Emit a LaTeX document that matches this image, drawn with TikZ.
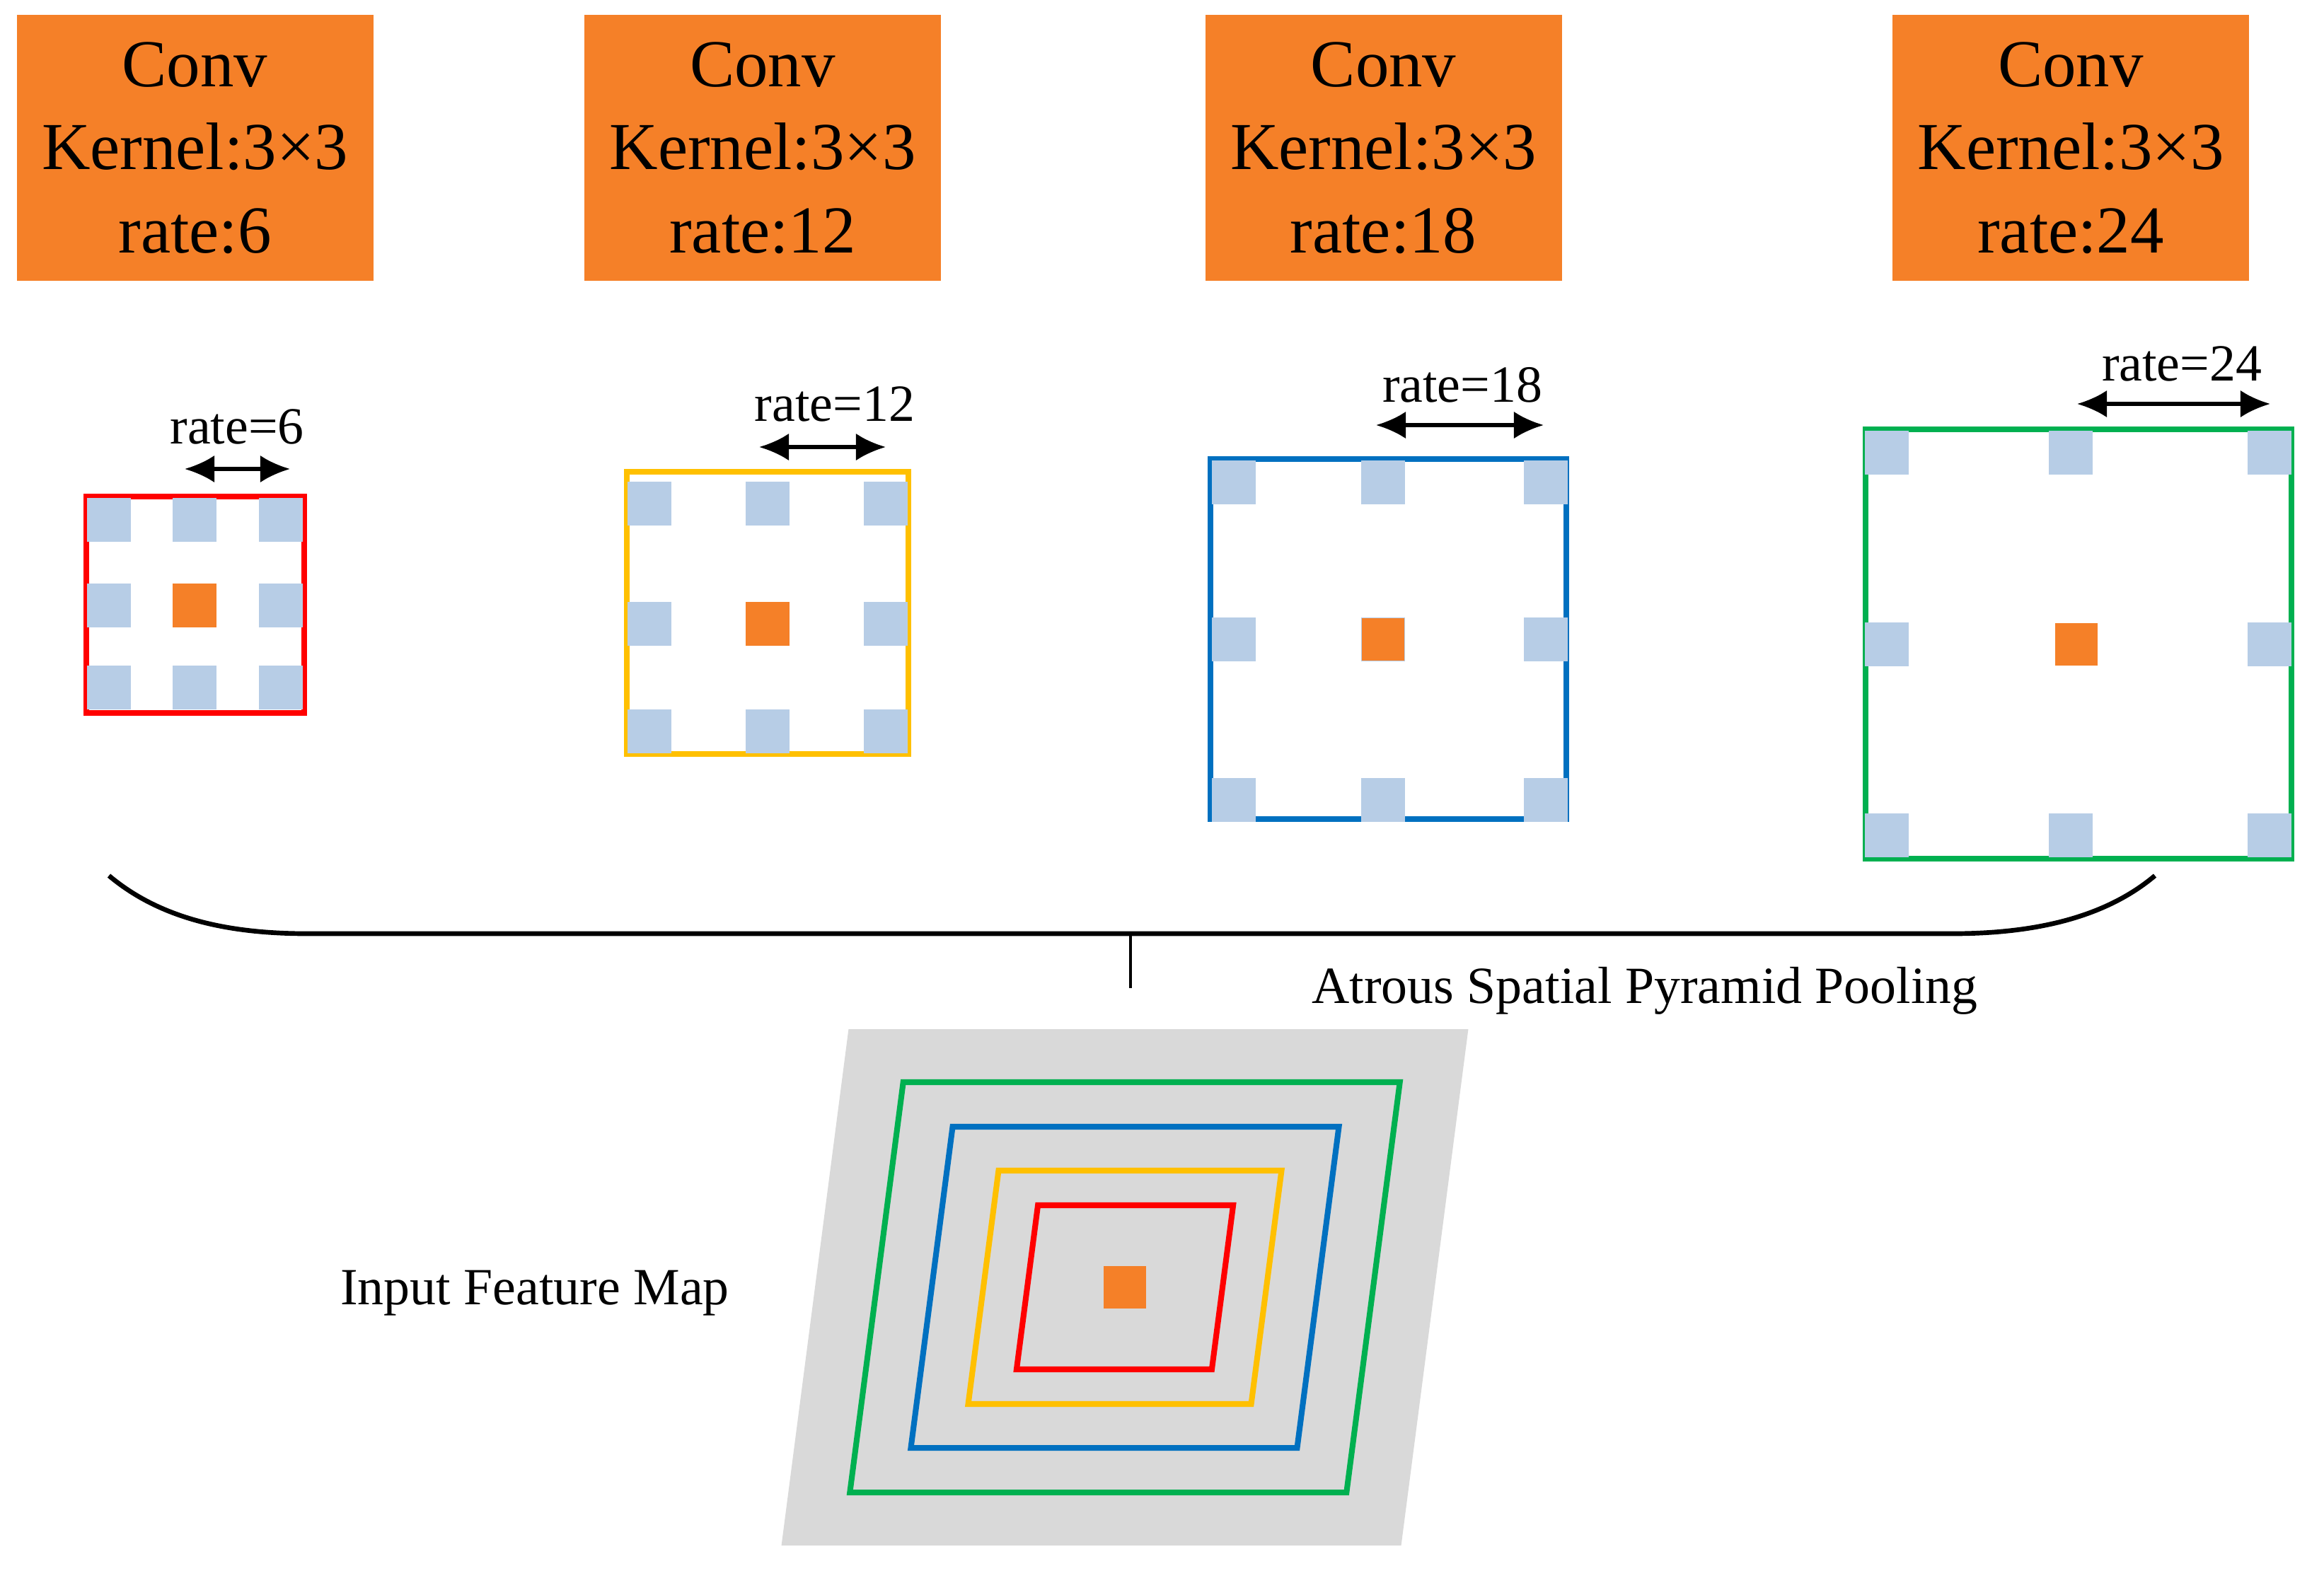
\documentclass[tikz,border=0pt]{standalone}
\usepackage{fontspec}
\setmainfont{Liberation Serif}
\usetikzlibrary{arrows.meta}

\definecolor{convorange}{RGB}{245,128,40}
\definecolor{tapblue}{RGB}{183,205,230}
\definecolor{ratered}{RGB}{255,0,0}
\definecolor{rateyellow}{RGB}{255,192,0}
\definecolor{rateblue}{RGB}{0,112,192}
\definecolor{rategreen}{RGB}{0,176,80}
\definecolor{mapgray}{RGB}{217,217,217}

\tikzset{
  convbox/.style={fill=convorange, minimum width=5.04cm, minimum height=3.76cm,
    align=center, inner sep=0pt, font=\fontsize{27}{33.5}\selectfont},
  ratelabel/.style={inner sep=0pt, font=\fontsize{21}{25}\selectfont},
  kernelframe/.style={line width=2.3pt},
  ratearrow/.style={<->, line width=1.5pt},
}

\begin{document}
\begin{tikzpicture}[x=1cm, y=-1cm, >={Latex[length=12pt,width=11pt]}]
  \useasboundingbox (0,0) rectangle (32.85,22.30);
  % Define sizes
  \def\a{0.31}   % half side of a tap square
  \def\o{0.30}   % half side of the centre square

  % --- Conv boxes ---
  \node[convbox] (conv6)  at (2.755,2.09) {Conv\\Kernel:3×3\\rate:6};
  \node[convbox] (conv12) at (10.78,2.09) {Conv\\Kernel:3×3\\rate:12};
  \node[convbox] (conv18) at (19.555,2.09) {Conv\\Kernel:3×3\\rate:18};
  \node[convbox] (conv24) at (29.27,2.09) {Conv\\Kernel:3×3\\rate:24};

  % --- Kernel, rate 6 ---
  \draw[kernelframe, ratered] (1.22,7.02) rectangle (4.30,10.08);
  \foreach \x in {1.54,2.75,3.97}
    \foreach \y in {7.35,8.56,9.72}
      \fill[tapblue] (\x-\a,\y-\a) rectangle (\x+\a,\y+\a);
  \fill[convorange] (2.75-\a,8.56-\a) rectangle (2.75+\a,8.56+\a);
  \coordinate (r6a) at (2.61,6.63);
  \coordinate (r6b) at (4.10,6.63);
  \draw[ratearrow] (r6a) -- (r6b);
  \node[ratelabel] (lbl6) at (3.35,6.03) {rate=6};

  % --- Kernel, rate 12 ---
  \draw[kernelframe, rateyellow] (8.86,6.67) rectangle (12.84,10.66);
  \foreach \x in {9.18,10.85,12.52}
    \foreach \y in {7.12,8.82,10.34}
      \fill[tapblue] (\x-\a,\y-\a) rectangle (\x+\a,\y+\a);
  \fill[convorange] (10.85-\a,8.82-\a) rectangle (10.85+\a,8.82+\a);
  \coordinate (r12a) at (10.73,6.32);
  \coordinate (r12b) at (12.52,6.32);
  \draw[ratearrow] (r12a) -- (r12b);
  \node[ratelabel] (lbl12) at (11.80,5.71) {rate=12};

  % --- Kernel, rate 18 ---
  \draw[kernelframe, rateblue] (17.11,6.49) rectangle (22.14,11.58);
  \foreach \x in {17.44,19.55,21.85}
    \foreach \y in {6.82,9.04,11.31}
      \fill[tapblue] (\x-\a,\y-\a) rectangle (\x+\a,\y+\a);
  \fill[convorange] (19.55-\o,9.04-\o) rectangle (19.55+\o,9.04+\o);
  \coordinate (r18a) at (19.45,6.01);
  \coordinate (r18b) at (21.82,6.01);
  \draw[ratearrow] (r18a) -- (r18b);
  \node[ratelabel] (lbl18) at (20.67,5.44) {rate=18};

  % --- Kernel, rate 24 ---
  \draw[kernelframe, rategreen] (26.37,6.07) rectangle (32.39,12.14);
  \foreach \x in {26.67,29.27,32.08}
    \foreach \y in {6.40,9.11,11.81}
      \fill[tapblue] (\x-\a,\y-\a) rectangle (\x+\a,\y+\a);
  \fill[white] (29.27-\a,9.11-\a) rectangle (29.27+\a,9.11+\a);
  \fill[convorange] (29.35-\o,9.11-\o) rectangle (29.35+\o,9.11+\o);
  \coordinate (r24a) at (29.36,5.71);
  \coordinate (r24b) at (32.09,5.71);
  \draw[ratearrow] (r24a) -- (r24b);
  \node[ratelabel] (lbl24) at (30.84,5.14) {rate=24};

  % --- Brace over the four branches ---
  \coordinate (brL) at (1.54,12.38);
  \coordinate (brR) at (30.46,12.38);
  \coordinate (brM) at (15.98,13.20);
  \coordinate (brT) at (15.98,13.97);
  \draw[line width=1.9pt] (brL) .. controls (2.3,13.02) and (3.3,13.20) .. (4.35,13.20)
    -- (27.59,13.20) .. controls (28.64,13.20) and (29.7,13.02) .. (brR);
  \draw[line width=1pt] (brM) -- (brT);
  \node[ratelabel] (aspp) at (23.25,14.01) {Atrous Spatial Pyramid Pooling};

  % --- Input feature map (slanted) ---
  \begin{scope}[shift={(15.90,18.20)}, xslant=0.13]
    \fill[mapgray] (-4.38,-3.65) rectangle (4.38,3.65);
    \draw[kernelframe, rategreen]  (-3.51,-2.90) rectangle (3.51,2.90);
    \draw[kernelframe, rateblue]   (-2.73,-2.27) rectangle (2.73,2.27);
    \draw[kernelframe, rateyellow] (-2.00,-1.65) rectangle (2.00,1.65);
    \draw[kernelframe, ratered]    (-1.38,-1.16) rectangle (1.38,1.16);
  \end{scope}
  \fill[convorange] (15.90-\o,18.20-\o) rectangle (15.90+\o,18.20+\o);
  \node[ratelabel] (ifm) at (7.56,18.28) {Input Feature Map};

\end{tikzpicture}
\end{document}
